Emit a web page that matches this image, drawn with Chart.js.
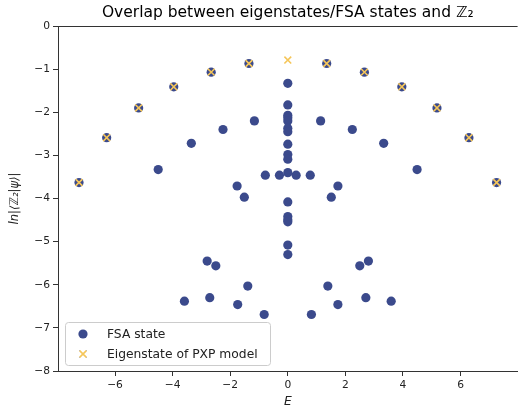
<!DOCTYPE html>
<html>
<head>
<meta charset="utf-8">
<script src="https://cdn.jsdelivr.net/npm/chart.js@4/dist/chart.umd.min.js"></script>
<style>
  html, body { margin: 0; padding: 0; background: #fff; }
  #wrap { width: 519px; height: 408px; overflow: hidden; }
</style>
</head>
<body>
<div id="wrap"><canvas id="chart" width="524" height="408"></canvas></div>
<script>
// PXP eigenstates with largest Z2 overlap
const eigenE = [-7.25, -6.29, -5.18, -3.96, -2.66, -1.35, 0, 1.35, 2.66, 3.96, 5.18, 6.29, 7.25]
const eigenLn = [-3.63, -2.59, -1.90, -1.41, -1.07, -0.87, -0.79, -0.87, -1.07, -1.41, -1.90, -2.59, -3.63]

// FSA states
const fsaE = [
  -7.25, -6.29, -5.18, -3.96, -2.66, -1.35, 1.35, 2.66, 3.96, 5.18, 6.29, 7.25,
  -4.50, 4.49, -3.35, 3.33, -2.25, 2.24, -1.16, 1.14,
  -0.78, -0.29, 0.29, 0.78, -1.76, 1.74, -1.51, 1.51,
  0, 0, 0, 0, 0, 0, 0, 0, 0, 0, 0, 0, 0, 0, 0, 0, 0,
  -2.80, 2.80, -2.50, 2.50, -1.39, 1.39, -3.59, 3.59, -2.71, 2.71, -1.74, 1.74, -0.82, 0.82
]
const fsaLn = [
  -3.63, -2.59, -1.90, -1.41, -1.07, -0.87, -0.87, -1.07, -1.41, -1.90, -2.59, -3.63,
  -3.33, -3.33, -2.72, -2.72, -2.40, -2.40, -2.20, -2.20,
  -3.46, -3.46, -3.46, -3.46, -3.71, -3.71, -3.97, -3.97,
  -1.33, -1.83, -2.07, -2.13, -2.20, -2.37, -2.45, -2.74, -2.98, -3.09, -3.40, -4.08, -4.42, -4.49, -4.54, -5.08, -5.30,
  -5.45, -5.45, -5.56, -5.56, -6.03, -6.03, -6.38, -6.38, -6.30, -6.30, -6.46, -6.46, -6.69, -6.69
]

const xTicks = [-6, -4, -2, 0, 2, 4, 6]
const yTicks = [0, -1, -2, -3, -4, -5, -6, -7, -8]

const fsaColor = '#3b4a8c'
const eigenColor = '#f5c65a'
const axisColor = '#333'
const textColor = '#222'

const toPoints = (xs, ys) => xs.map((x, i) => ({ x: x, y: ys[i] }))
const minus = v => v < 0 ? '\u2212' + Math.abs(v) : String(v)

// top spine (matplotlib frame)
const frame = {
  id: 'frame',
  afterDraw(chart) {
    const { ctx, chartArea } = chart
    ctx.save()
    ctx.strokeStyle = axisColor
    ctx.lineWidth = 1
    ctx.beginPath()
    ctx.moveTo(chartArea.left, chartArea.top + 0.5)
    ctx.lineTo(chartArea.right, chartArea.top + 0.5)
    ctx.stroke()
    ctx.restore()
  }
}

// legend box in the lower left corner of the axes
const boxLegend = {
  id: 'boxLegend',
  afterDraw(chart) {
    const { ctx } = chart
    const x = 65, y = 322, w = 205, h = 43
    ctx.save()
    ctx.fillStyle = 'rgba(255,255,255,0.8)'
    ctx.strokeStyle = '#cccccc'
    ctx.lineWidth = 1
    ctx.beginPath()
    ctx.roundRect(x + 0.5, y + 0.5, w, h, 3)
    ctx.fill()
    ctx.stroke()
    ctx.font = '12.3px "DejaVu Sans"'
    ctx.textBaseline = 'middle'
    chart.data.datasets.slice().sort((a, b) => a.legendIndex - b.legendIndex).forEach((ds, i) => {
      const cy = y + 12 + i * 20
      Chart.helpers.drawPoint(ctx, {
        pointStyle: ds.pointStyle,
        radius: ds.pointRadius,
        borderWidth: ds.borderWidth
      }, 83, cy)
      ctx.fillStyle = ds.backgroundColor
      ctx.strokeStyle = ds.borderColor
      ctx.lineWidth = ds.borderWidth
      ctx.beginPath()
      if (ds.pointStyle === 'circle') {
        ctx.arc(83, cy, ds.pointRadius, 0, Math.PI * 2)
        ctx.fill()
      } else {
        const d = ds.pointRadius * Math.SQRT1_2
        ctx.moveTo(83 - d, cy - d); ctx.lineTo(83 + d, cy + d)
        ctx.moveTo(83 - d, cy + d); ctx.lineTo(83 + d, cy - d)
        ctx.stroke()
      }
      ctx.fillStyle = textColor
      ctx.fillText(ds.label, 107, cy + 1)
    })
    ctx.restore()
  }
}

new Chart(document.getElementById('chart'), {
  type: 'scatter',
  data: {
    datasets: [
      {
        label: 'FSA state',
        legendIndex: 0,
        data: toPoints(fsaE, fsaLn),
        pointStyle: 'circle',
        pointRadius: 4.6,
        backgroundColor: fsaColor,
        borderColor: fsaColor,
        borderWidth: 0,
        order: 2
      },
      {
        label: 'Eigenstate of PXP model',
        legendIndex: 1,
        data: toPoints(eigenE, eigenLn),
        pointStyle: 'crossRot',
        pointRadius: 4.8,
        backgroundColor: eigenColor,
        borderColor: eigenColor,
        borderWidth: 1.6,
        order: 1
      }
    ]
  },
  options: {
    responsive: false,
    devicePixelRatio: 1,
    animation: false,
    events: [],
    layout: { padding: { left: 0, right: 3, top: 0, bottom: 0 } },
    plugins: {
      legend: { display: false },
      tooltip: { enabled: false },
      title: {
        display: true,
        text: 'Overlap between eigenstates/FSA states and \u2124\u2082',
        fullSize: false,
        color: '#000',
        font: { family: 'DejaVu Sans', size: 15.5, weight: 'normal', lineHeight: 1.2 },
        padding: { top: 4, bottom: 3.4 }
      }
    },
    scales: {
      x: {
        type: 'linear',
        min: -7.98,
        max: 7.98,
        afterBuildTicks: s => { s.ticks = xTicks.map(v => ({ value: v })) },
        afterFit: s => { s.height = 37 },
        grid: { display: true, drawOnChartArea: false, drawTicks: true, tickLength: 5, color: axisColor },
        border: { display: true, color: axisColor, width: 1 },
        ticks: {
          color: textColor,
          padding: 3,
          maxRotation: 0,
          font: { family: 'DejaVu Sans', size: 10.7 },
          callback: v => minus(v)
        },
        title: {
          display: true,
          text: 'E',
          color: textColor,
          font: { family: 'DejaVu Sans', size: 12.3, style: 'italic', lineHeight: 1 },
          padding: { top: 0, bottom: 0 }
        }
      },
      y: {
        type: 'linear',
        min: -8,
        max: 0,
        afterBuildTicks: s => { s.ticks = yTicks.map(v => ({ value: v })) },
        afterFit: s => { s.width = 58 },
        grid: { display: true, drawOnChartArea: false, drawTicks: true, tickLength: 5, color: axisColor },
        border: { display: true, color: axisColor, width: 1 },
        ticks: {
          color: textColor,
          padding: 3,
          font: { family: 'DejaVu Sans', size: 10.7 },
          callback: v => minus(v)
        },
        title: {
          display: true,
          text: 'ln|\u27e8\u2124\u2082|\u03c8\u27e9|',
          color: textColor,
          font: { family: 'DejaVu Sans', size: 11.5, style: 'italic', lineHeight: 1.2 },
          padding: { top: 8, bottom: 0 }
        }
      }
    }
  },
  plugins: [frame, boxLegend]
})
</script>
</body>
</html>
